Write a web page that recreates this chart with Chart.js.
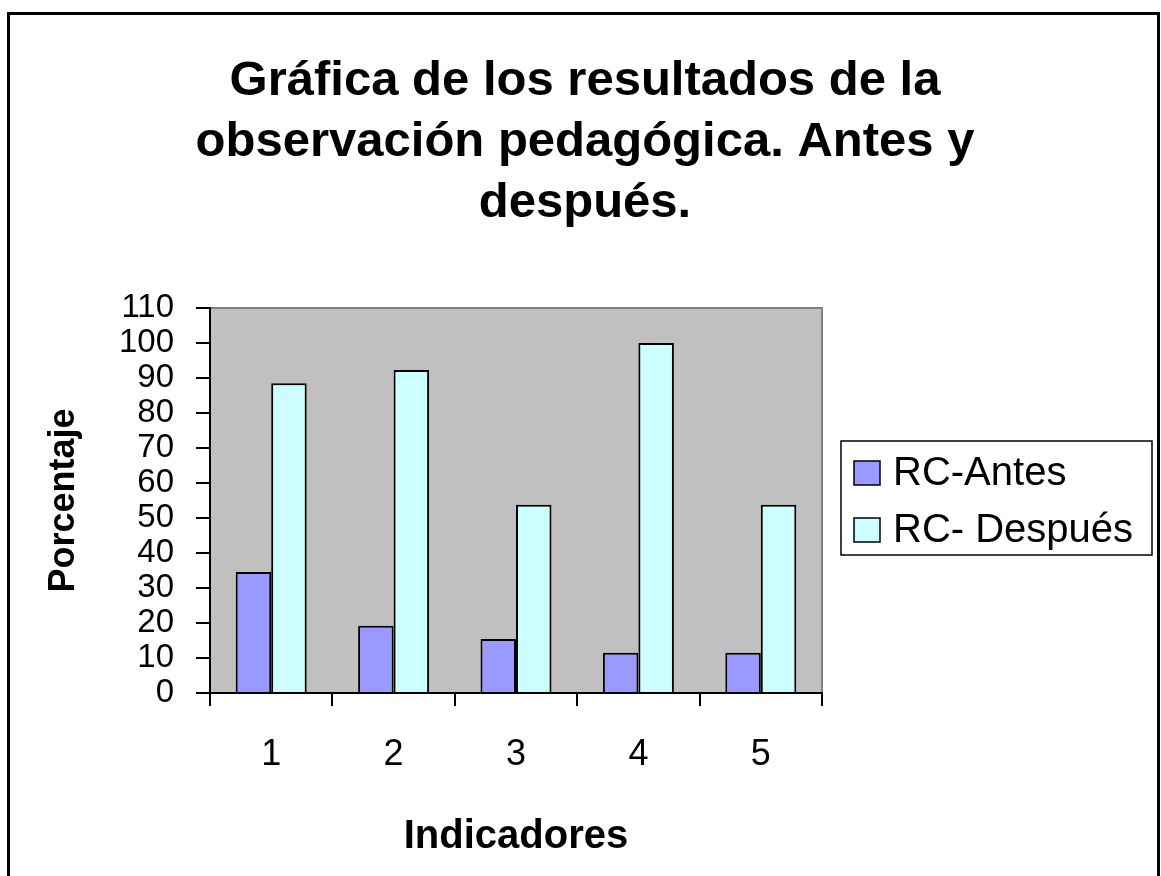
<!DOCTYPE html>
<html>
<head>
<meta charset="utf-8">
<script src="https://cdn.jsdelivr.net/npm/chart.js@4/dist/chart.umd.min.js"></script>
<style>
  html, body { margin: 0; padding: 0; background: #fff; }
  #wrap { width: 1161px; height: 876px; }
</style>
</head>
<body>
<div id="wrap"><canvas id="grafica" width="1161" height="876"></canvas></div>
<script>
// datos
const categorias = ['1', '2', '3', '4', '5'];
const rcAntes = [34.6, 19.2, 15.4, 11.5, 11.5];
const rcDespues = [88.5, 92.3, 53.8, 100, 53.8];
const ejeY = { min: 0, max: 110, paso: 10 };
const titulo = ['Gráfica de los resultados de la', 'observación pedagógica. Antes y', 'después.'];

const fuente = '"Liberation Sans", Arial, sans-serif';
Chart.defaults.font.family = fuente;
Chart.defaults.color = '#000';

// fondo gris del área de trazado, marco exterior, título y leyenda
const decoracion = {
    id: 'decoracion',
    beforeDraw(chart) {
        const { ctx, chartArea: a } = chart;
        ctx.save();
        ctx.fillStyle = '#fff';
        ctx.fillRect(0, 0, chart.width, chart.height);
        ctx.fillStyle = '#c0c0c0';
        ctx.fillRect(a.left, a.top, a.right - a.left, a.bottom - a.top);
        ctx.strokeStyle = '#808080';
        ctx.lineWidth = 2;
        ctx.beginPath();
        ctx.moveTo(a.left, a.top);
        ctx.lineTo(a.right, a.top);
        ctx.lineTo(a.right, a.bottom);
        ctx.stroke();
        ctx.restore();
    },
    afterDraw(chart) {
        const ctx = chart.ctx;
        ctx.save();
        // marco exterior
        ctx.strokeStyle = '#000';
        ctx.lineWidth = 3;
        ctx.strokeRect(8.5, 13.5, 1150, 900);

        // título
        ctx.fillStyle = '#000';
        ctx.font = 'bold 49px ' + fuente;
        ctx.textAlign = 'center';
        ctx.textBaseline = 'alphabetic';
        titulo.forEach((t, i) => ctx.fillText(t, 585, 95 + i * 61));

        // leyenda
        ctx.lineWidth = 1.5;
        ctx.strokeRect(841, 441, 311, 114);
        ctx.font = '40px ' + fuente;
        ctx.textAlign = 'left';
        ctx.textBaseline = 'middle';
        chart.data.datasets.forEach((ds, i) => {
            const y = 473 + i * 57;
            ctx.fillStyle = ds.backgroundColor;
            ctx.fillRect(854, y - 12, 26, 24);
            ctx.strokeStyle = '#000';
            ctx.lineWidth = 1.5;
            ctx.strokeRect(854, y - 12, 26, 24);
            ctx.fillStyle = '#000';
            ctx.fillText(ds.label, 893, y + 1);
        });
        ctx.restore();
    }
};

new Chart(document.getElementById('grafica'), {
    type: 'bar',
    data: {
        labels: categorias,
        datasets: [
            {
                label: 'RC-Antes',
                data: rcAntes,
                backgroundColor: '#9999ff',
                borderColor: '#000',
                borderWidth: 2,
                categoryPercentage: 0.58,
                barPercentage: 1.0
            },
            {
                label: 'RC- Después',
                data: rcDespues,
                backgroundColor: '#ccffff',
                borderColor: '#000',
                borderWidth: 2,
                categoryPercentage: 0.58,
                barPercentage: 1.0
            }
        ]
    },
    options: {
        responsive: false,
        animation: false,
        layout: { padding: { left: 0, top: 308, right: 339, bottom: 0 } },
        plugins: {
            legend: { display: false },
            title: { display: false },
            tooltip: { enabled: false }
        },
        scales: {
            x: {
                afterFit: (s) => { s.height = 876 - 693; },
                grid: { offset: true, drawOnChartArea: false, color: '#000', lineWidth: 2, tickLength: 13 },
                border: { color: '#000', width: 2 },
                ticks: { font: { size: 36 }, padding: 27 },
                title: {
                    display: true,
                    text: 'Indicadores',
                    font: { size: 40, weight: 'bold' },
                    padding: { bottom: 15 }
                }
            },
            y: {
                min: ejeY.min,
                max: ejeY.max,
                afterFit: (s) => { s.width = 210; },
                grid: { drawOnChartArea: false, color: '#000', lineWidth: 2, tickLength: 14 },
                border: { color: '#000', width: 2 },
                ticks: { stepSize: ejeY.paso, autoSkip: false, font: { size: 33 }, padding: 22 },
                title: {
                    display: true,
                    text: 'Porcentaje',
                    font: { size: 36, weight: 'bold' },
                    padding: { top: 42 }
                }
            }
        }
    },
    plugins: [decoracion]
});
</script>
</body>
</html>
